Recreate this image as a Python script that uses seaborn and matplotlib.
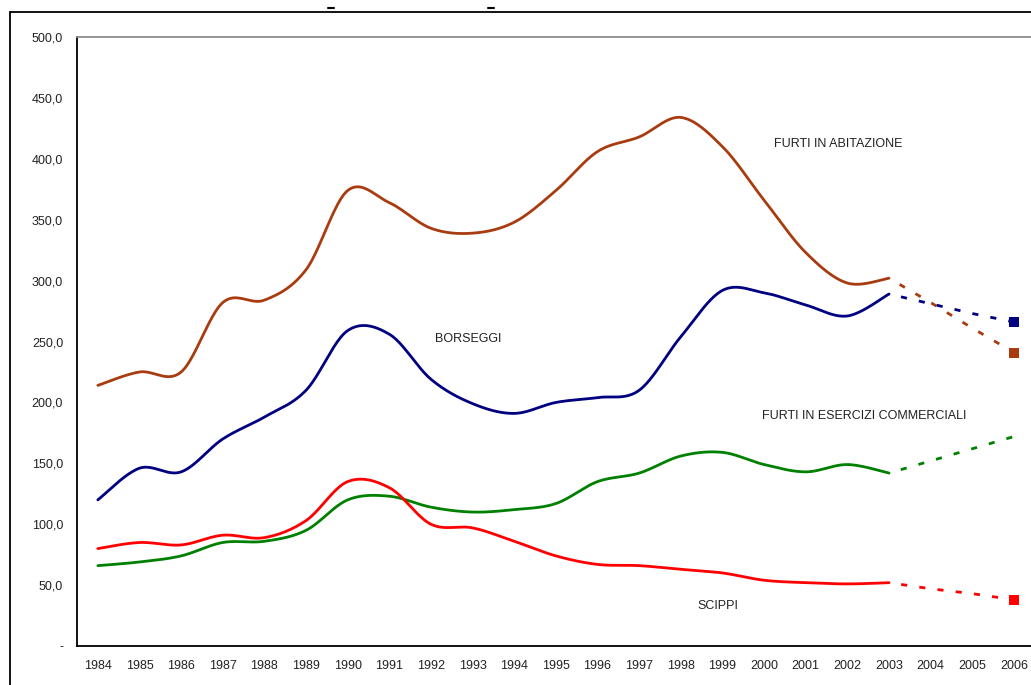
import numpy as np
import pandas as pd
import seaborn as sns
import matplotlib.pyplot as plt
from matplotlib.lines import Line2D

years = list(range(1984, 2004))
proj_years = [2003, 2004, 2005, 2006]
all_years = list(range(1984, 2007))

furti_abitazione = [214, 225, 225, 282, 284, 309, 374, 364, 343, 339,
                    348, 374, 406, 418, 434, 410, 366, 323, 298, 302]
borseggi = [120, 146, 143, 170, 188, 210, 259, 256, 219, 199,
            191, 200, 204, 210, 254, 292, 290, 280, 271, 289]
furti_esercizi = [66, 69, 74, 85, 86, 95, 120, 123, 114, 110,
                  112, 117, 135, 142, 156, 159, 149, 143, 149, 142]
scippi = [80, 85, 83, 91, 89, 103, 135, 130, 100, 97,
          86, 74, 67, 66, 63, 60, 54, 52, 51, 52]

proj_abitazione = [302, 282, 261, 241]
proj_borseggi = [289, 281, 273, 266]
proj_esercizi = [142, 152, 162, 172]
proj_scippi = [52, 47, 43, 38]

serie = ["FURTI IN ABITAZIONE", "BORSEGGI", "FURTI IN ESERCIZI COMMERCIALI", "SCIPPI"]
colori = ["#a83c10", "#000080", "#008000", "#ff0000"]


def smooth(xs, ys, n=24):
    # curva liscia stile Excel: bezier cubica che passa per ogni punto
    x = np.asarray(xs, float)
    y = np.asarray(ys, float)
    xp = np.concatenate([[x[0]], x, [x[-1]]])
    yp = np.concatenate([[y[0]], y, [y[-1]]])
    t = np.linspace(0, 1, n, endpoint=False)[:, None]
    pts = []
    for i in range(len(x) - 1):
        p0 = np.array([x[i], y[i]])
        p3 = np.array([x[i + 1], y[i + 1]])
        p1 = p0 + (np.array([xp[i + 2], yp[i + 2]]) - np.array([xp[i], yp[i]])) / 6
        p2 = p3 - (np.array([xp[i + 3], yp[i + 3]]) - np.array([xp[i + 1], yp[i + 1]])) / 6
        seg = (1 - t) ** 3 * p0 + 3 * (1 - t) ** 2 * t * p1 + 3 * (1 - t) * t ** 2 * p2 + t ** 3 * p3
        pts.append(seg)
    pts.append(np.array([[x[-1], y[-1]]]))
    pts = np.vstack(pts)
    return pts[:, 0], pts[:, 1]


sns.set_style("white")
plt.rcParams["font.family"] = ["Liberation Sans", "DejaVu Sans"]

frames = []
for nome, vals in zip(serie, [furti_abitazione, borseggi, furti_esercizi, scippi]):
    sx, sy = smooth(years, vals)
    frames.append(pd.DataFrame({"anno": sx, "valore": sy, "serie": nome}))
df = pd.concat(frames, ignore_index=True)

fig = plt.figure(figsize=(10.31, 6.85), dpi=100)
ax = fig.add_axes([0.0747, 0.0569, 0.929, 0.889])

sns.lineplot(data=df, x="anno", y="valore", hue="serie", hue_order=serie,
             palette=colori, sort=False, estimator=None, lw=2.0, legend=False, ax=ax)

proiezioni = [proj_abitazione, proj_borseggi, proj_esercizi, proj_scippi]
for col, vals in zip(colori, proiezioni):
    sns.lineplot(x=proj_years, y=vals, color=col, lw=2.0, linestyle=(2.2, (2.2, 4.4)),
                 sort=False, estimator=None, ax=ax)

# quadratini sul valore 2006 (non per esercizi commerciali)
for col, vals in zip([colori[0], colori[1], colori[3]], [proj_abitazione, proj_borseggi, proj_scippi]):
    sns.scatterplot(x=[proj_years[-1]], y=[vals[-1]], color=col, marker="s", s=46,
                    edgecolor=col, linewidth=0, ax=ax, zorder=5)

ax.set_xlim(1983.5, 2006.5)
ax.set_ylim(0, 500)
ax.set_xlabel("")
ax.set_ylabel("")

yt = list(range(0, 501, 50))
ax.set_yticks(yt)
ax.set_yticklabels(["-" if v == 0 else f"{v},0" for v in yt])
ax.tick_params(axis="y", direction="out", length=3, width=1.2, color="black",
               labelsize=9, pad=7, labelcolor="#222222")

ax.set_xticks(np.arange(1983.5, 2007, 1))
ax.set_xticklabels([])
ax.set_xticks(all_years, minor=True)
ax.set_xticklabels([str(a) for a in all_years], minor=True)
ax.tick_params(axis="x", which="major", direction="out", length=4, width=1.2, color="black")
ax.tick_params(axis="x", which="minor", length=0, labelsize=9, pad=10, labelcolor="#222222")

for s in ["left", "bottom"]:
    ax.spines[s].set_color("black")
    ax.spines[s].set_linewidth(1.3)
ax.spines["top"].set_color("#8c8c8c")
ax.spines["top"].set_linewidth(1.3)
ax.spines["right"].set_visible(False)

etichette = [
    ("FURTI IN ABITAZIONE", 2001.77, 412),
    ("BORSEGGI", 1992.9, 252),
    ("FURTI IN ESERCIZI COMMERCIALI", 2002.4, 189),
    ("SCIPPI", 1998.9, 33),
]
for testo, xx, yy in etichette:
    ax.text(xx, yy, testo, ha="center", va="center", fontsize=9, color="#222222")

# cornice dell'area del grafico (tagliata)
W, H = 1031, 685
fig.add_artist(Line2D([10 / W, 1], [1 - 12 / H] * 2, transform=fig.transFigure, color="black", lw=1.3))
fig.add_artist(Line2D([10 / W] * 2, [0, 1 - 12 / H], transform=fig.transFigure, color="black", lw=1.3))
for x0 in [328, 488]:
    fig.add_artist(Line2D([x0 / W, (x0 + 6) / W], [1 - 8 / H] * 2, transform=fig.transFigure,
                          color="black", lw=1.5))

fig.savefig("out.png", dpi=100)
